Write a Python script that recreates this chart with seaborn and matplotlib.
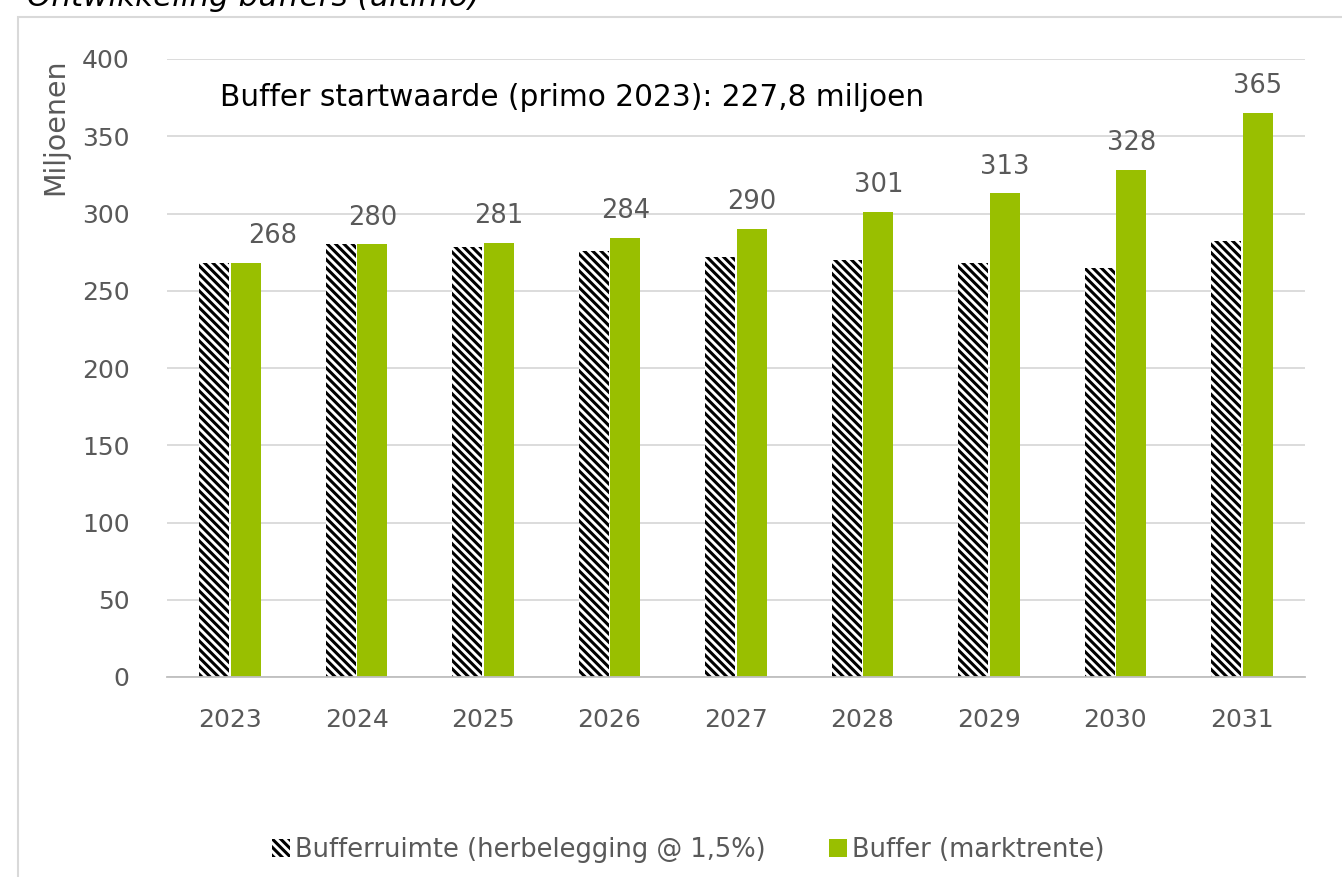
import matplotlib
matplotlib.use("Agg")
import matplotlib.pyplot as plt
import seaborn as sns
import pandas as pd
from matplotlib.patches import Rectangle, Patch

years = ["2023", "2024", "2025", "2026", "2027", "2028", "2029", "2030", "2031"]
bufferruimte = [268, 280, 278, 276, 272, 270, 268, 265, 282]
buffer_markt = [268, 280, 281, 284, 290, 301, 313, 328, 365]
series_names = ["Bufferruimte (herbelegging @ 1,5%)", "Buffer (marktrente)"]
yticks = [0, 50, 100, 150, 200, 250, 300, 350, 400]

sns.set_theme(style="white")
plt.rcParams['font.family'] = ['DejaVu Sans']
plt.rcParams['hatch.linewidth'] = 2.2
plt.rcParams['hatch.color'] = 'black'

txt = "#595959"
green = "#99bf00"

df = pd.DataFrame({
    "year": years * 2,
    "value": bufferruimte + buffer_markt,
    "series": [series_names[0]] * len(years) + [series_names[1]] * len(years),
})

fig = plt.figure(figsize=(13.42, 8.77), dpi=100)
ax = fig.add_axes([167/1342, 1 - 677/877, (1305-167)/1342, (677-59)/877])

sns.barplot(data=df, x="year", y="value", hue="series", ax=ax,
            palette=["white", green], width=0.5, gap=0.05,
            legend=False, saturation=1)

n = len(years)
for i, p in enumerate(ax.patches[:2*n]):
    if i < n:
        p.set_facecolor("white")
        p.set_edgecolor("black")
        p.set_hatch("\\\\\\\\")
        p.set_linewidth(0)
    else:
        p.set_facecolor(green)
        p.set_linewidth(0)

for i, p in enumerate(ax.patches[n:2*n]):
    dx = 19 if i == 0 else 0  # first label nudged right, as in the original
    ax.annotate(f"{buffer_markt[i]}", (p.get_x() + p.get_width()/2, p.get_height()),
                xytext=(dx, 10), textcoords="offset points", ha="center", va="bottom",
                fontsize=18.5, color=txt)

ax.set_ylim(0, 400)
ax.set_yticks(yticks)
ax.set_xlim(-0.5, n - 0.5)
ax.yaxis.grid(True, color="#d9d9d9", linewidth=1.3)
ax.set_axisbelow(True)
for s in ["top", "right", "left"]:
    ax.spines[s].set_visible(False)
ax.spines["bottom"].set_color("#bfbfbf")
ax.spines["bottom"].set_linewidth(1.3)
ax.tick_params(axis="both", length=0, labelsize=18, labelcolor=txt)
ax.tick_params(axis="x", pad=22)
ax.tick_params(axis="y", pad=27)
ax.set_xlabel("")
ax.set_ylabel("")
fig.text(55/1342, 1 - 127/877, "Miljoenen", rotation=90, fontsize=20.5, color=txt,
         ha="center", va="center")

ax.text(220/1342, 1 - 97/877, "Buffer startwaarde (primo 2023): 227,8 miljoen",
        transform=fig.transFigure, fontsize=21.3, color="black", va="center", ha="left")

# outer chart border
fig.patches.append(Rectangle((18/1342, -0.1), 1.2, 1 - 17/877 + 0.1, transform=fig.transFigure,
                             fill=False, edgecolor="#d9d9d9", linewidth=1.5))
fig.text(27/1342, 1 - 6/877, "Ontwikkeling buffers (ultimo)", fontsize=22.3, style="italic",
         color="black", va="baseline", ha="left")

handles = [Patch(facecolor="white", edgecolor="black", hatch="\\\\\\\\", linewidth=0, label=series_names[0]),
           Patch(facecolor=green, edgecolor=green, linewidth=0, label=series_names[1])]
fig.legend(handles=handles, loc="center", bbox_to_anchor=(688/1342, 1 - 850/877), ncol=2,
           frameon=False, fontsize=18.5, labelcolor=txt, handlelength=0.7, handleheight=0.7,
           handletextpad=0.2, columnspacing=2.45)

fig.savefig("out.png", dpi=100)
